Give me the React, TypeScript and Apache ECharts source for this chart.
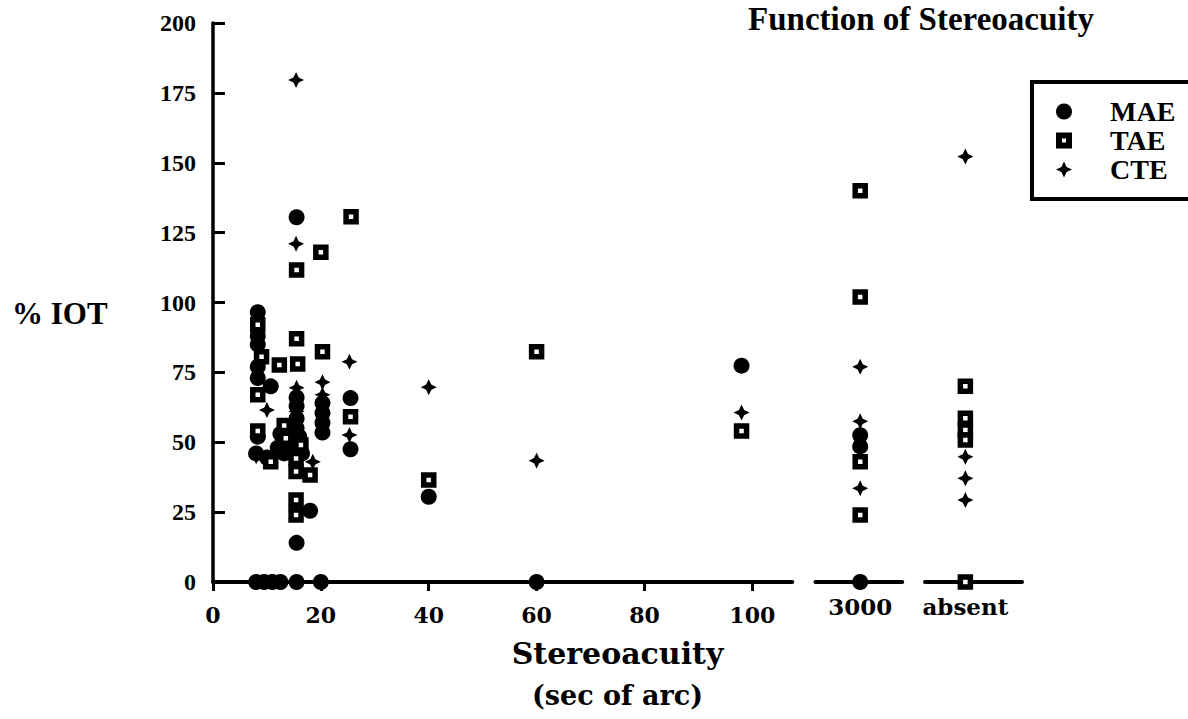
import React, { useEffect, useRef } from 'react';
import * as echarts from 'echarts';

// Axis ticks / labels
const xTickValues = [0, 20, 40, 60, 80, 100];
const breakValues = [120, 139.5];
const breakLabels = ['3000', 'absent'];
const axisSegments: [number, number][] = [[0, 107.4], [111.7, 127.8], [132, 150]];

// [stereoacuity position, % IOT]
const maeData: [number, number][] = [
  [8.3, 96.5], [8.3, 88], [8.3, 85], [8.3, 77], [8.3, 73], [10.7, 70], [8.3, 52], [8, 46], [10, 44.5],
  [12.5, 53], [12, 48], [13.2, 46],
  [15.5, 130.5], [15.5, 66], [15.5, 63], [15.5, 58.5], [15.5, 55], [16, 52], [14.5, 47], [16.5, 46],
  [18, 25.5], [15.5, 14],
  [20.3, 64], [20.3, 60.5], [20.3, 57], [20.3, 53.5],
  [25.5, 65.8], [25.5, 47.5],
  [40, 30.5], [98, 77.4],
  [120, 52.5], [120, 48.5],
  [8, 0], [9.5, 0], [11, 0], [12.5, 0], [15.5, 0], [20, 0], [60, 0], [120, 0],
];
const taeData: [number, number][] = [
  [8.3, 92], [9, 80.6], [8.3, 67], [8.3, 54], [10.7, 43],
  [12.3, 77.6], [13.2, 56], [13.5, 51.4],
  [15.5, 111.6], [15.5, 87], [15.7, 78], [16.3, 49], [15.4, 44.2], [15.4, 39.5], [18, 38.3],
  [15.4, 29.3], [15.4, 24],
  [20, 118], [20.3, 82.4],
  [25.6, 130.7], [25.5, 59.1],
  [40, 36.5], [60, 82.4], [98, 54],
  [120, 140], [120, 102], [120, 43], [120, 24],
  [139.5, 70], [139.5, 58.6], [139.5, 54.4], [139.5, 50.8], [139.5, 0],
];
const cteData: [number, number][] = [
  [10, 61.5], [8, 45],
  [15.4, 179.6], [15.4, 121], [15.5, 69.5], [15.5, 61], [18.5, 43],
  [20.3, 71.5], [20.3, 67],
  [25.3, 78.8], [25.3, 52.6],
  [40, 69.7], [60, 43.4], [98, 60.6],
  [120, 77], [120, 57.5], [120, 33.5],
  [139.5, 152.2], [139.5, 44.8], [139.5, 37.1], [139.5, 29.3],
];

const squareIcon = 'path://M0,0H16V6H0Z M0,10H16V16H0Z M0,6H6V10H0Z M10,6H16V10H10Z';
const plusSymbol = 'path://M8,0L10.6,5.4L16,8L10.6,10.6L8,16L5.4,10.6L0,8L5.4,5.4Z';

export default function App() {
  const ref = useRef<HTMLDivElement>(null);
  useEffect(() => {
    if (!ref.current) return;
    const chart = echarts.init(ref.current, null, { renderer: 'svg' });
    const serifBold = { fontFamily: 'Liberation Serif', fontWeight: 'bold' as const, color: '#000' };
    const wideBold = { fontFamily: 'DejaVu Serif', fontWeight: 'bold' as const, color: '#000' };
    chart.setOption({
      animation: false,
      backgroundColor: '#fff',
      grid: { left: 213, right: 166, top: 23, bottom: 137 },
      xAxis: [
        {
          type: 'value', min: 0, max: 150, position: 'bottom',
          axisLine: { show: false }, splitLine: { show: false },
          axisTick: { show: true, customValues: xTickValues, length: 9, lineStyle: { color: '#000', width: 3 } },
          axisLabel: { customValues: xTickValues, margin: 22, fontSize: 22, ...wideBold },
          name: '{a|Stereoacuity}\n{b|(sec of arc)}',
          nameLocation: 'middle', nameGap: 50,
          nameTextStyle: {
            rich: {
              a: { ...wideBold, fontSize: 30, lineHeight: 42 },
              b: { ...wideBold, fontSize: 27, lineHeight: 42 },
            },
          },
        },
        {
          type: 'value', min: 0, max: 150, position: 'bottom',
          axisLine: { show: false }, axisTick: { show: false }, splitLine: { show: false },
          axisLabel: {
            customValues: breakValues, margin: 13, fontSize: 23, ...wideBold,
            formatter: (v: number) => breakLabels[breakValues.indexOf(v)] ?? '',
          },
        },
      ],
      yAxis: {
        type: 'value', min: 0, max: 200, interval: 25,
        axisLine: { show: true, lineStyle: { color: '#000', width: 3.5 } },
        axisTick: { show: true, inside: true, length: 12, lineStyle: { color: '#000', width: 3 } },
        axisLabel: { margin: 17, fontSize: 24, ...serifBold },
        splitLine: { show: false },
      },
      legend: {
        data: [
          { name: 'MAE', icon: 'circle' },
          { name: 'TAE', icon: squareIcon, itemStyle: { color: '#000', borderWidth: 0 } },
          { name: 'CTE', icon: plusSymbol },
        ],
        orient: 'vertical', left: 1032, top: 82,
        borderColor: '#000', borderWidth: 4, padding: [15, 60, 15, 24],
        itemGap: 0, itemWidth: 16, itemHeight: 16, selectedMode: false,
        textStyle: { ...serifBold, fontSize: 28, lineHeight: 29, padding: [0, 0, 0, 33] },
      },
      graphic: [
        {
          type: 'text', x: 921, y: 19,
          style: {
            text: 'Function of Stereoacuity', font: 'bold 33px "Liberation Serif"', fill: '#000',
            align: 'center', verticalAlign: 'middle', textAlign: 'center', textVerticalAlign: 'middle',
          },
        },
        {
          type: 'text', x: 12, y: 313,
          style: {
            text: '% IOT', font: 'bold 31px "Liberation Serif"', fill: '#000',
            align: 'left', verticalAlign: 'middle', textAlign: 'left', textVerticalAlign: 'middle',
          },
        },
      ],
      series: [
        {
          name: 'MAE', type: 'scatter', data: maeData, symbol: 'circle', symbolSize: 16,
          itemStyle: { color: '#000', opacity: 1 },
          markLine: {
            silent: true, symbol: ['none', 'none'], z: 1, label: { show: false },
            lineStyle: { color: '#000', width: 4, type: 'solid', cap: 'round' },
            data: axisSegments.map(([a, b]) => [{ coord: [a, 0] }, { coord: [b, 0] }]),
          },
        },
        {
          name: 'TAE', type: 'scatter', data: taeData, symbol: 'rect', symbolSize: 10,
          itemStyle: { color: '#fff', borderColor: '#000', borderWidth: 5.5, opacity: 1 },
        },
        {
          name: 'CTE', type: 'scatter', data: cteData, symbol: plusSymbol, symbolSize: 16,
          itemStyle: { color: '#000', opacity: 1 },
        },
      ],
    });
    return () => chart.dispose();
  }, []);
  return <div ref={ref} style={{ position: 'absolute', left: 0, top: 0, width: 1188, height: 719 }} />;
}
